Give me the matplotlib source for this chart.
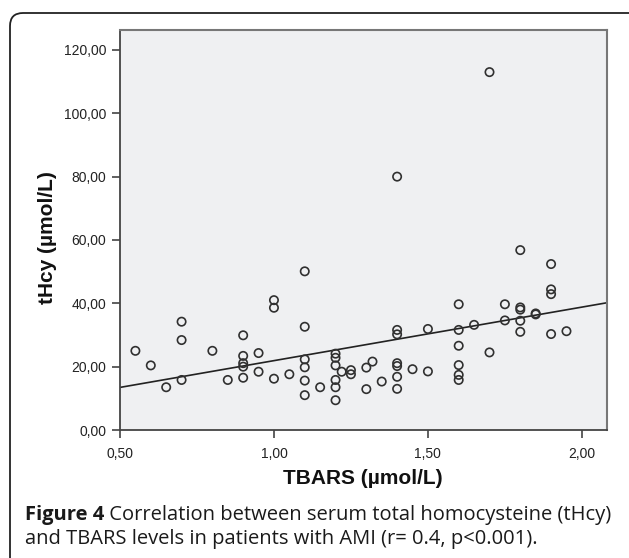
import numpy as np
import matplotlib
matplotlib.use("Agg")
import matplotlib.pyplot as plt
from matplotlib.patches import FancyBboxPatch

# TBARS (umol/L) and tHcy (umol/L)
tbars = [0.55, 0.60, 0.65,
         0.70, 0.70, 0.70,
         0.80, 0.85,
         0.90, 0.90, 0.90, 0.90, 0.90,
         0.95, 0.95,
         1.00, 1.00, 1.00,
         1.05,
         1.10, 1.10, 1.10, 1.10, 1.10, 1.10,
         1.15,
         1.20, 1.20, 1.20, 1.20, 1.20, 1.20,
         1.22, 1.25, 1.25, 1.30, 1.30, 1.32, 1.35,
         1.40, 1.40, 1.40, 1.40, 1.40, 1.40, 1.40,
         1.45, 1.50, 1.50,
         1.60, 1.60, 1.60, 1.60, 1.60, 1.60,
         1.65, 1.70, 1.70, 1.75, 1.75,
         1.80, 1.80, 1.80, 1.80, 1.80,
         1.85, 1.85,
         1.90, 1.90, 1.90, 1.90,
         1.95]
thcy = [25.0, 20.4, 13.5,
        34.2, 28.4, 15.8,
        25.0, 15.8,
        29.9, 23.4, 21.1, 20.0, 16.5,
        24.3, 18.4,
        41.0, 38.6, 16.2,
        17.6,
        50.1, 32.6, 22.3, 19.8, 15.6, 11.0,
        13.5,
        24.1, 22.8, 20.4, 15.8, 13.5, 9.4,
        18.4, 18.9, 17.6, 19.7, 12.9, 21.6, 15.3,
        80.0, 31.6, 30.2, 21.1, 20.2, 16.8, 13.0,
        19.2, 31.9, 18.5,
        39.7, 31.6, 26.6, 20.5, 17.4, 15.8,
        33.2, 113.0, 24.5, 39.7, 34.6,
        56.8, 38.7, 38.0, 34.5, 31.0,
        36.8, 36.5,
        52.4, 44.4, 42.9, 30.3,
        31.2]

# fit line as drawn in the figure
fit_intercept = 5.0
fit_slope = 16.9

x_ticks = [0.5, 1.0, 1.5, 2.0]
y_ticks = [0, 20, 40, 60, 80, 100, 120]
x_lim = (0.5, 2.08)
y_lim = (0, 126.3)

caption_bold = "Figure 4"
caption_1 = " Correlation between serum total homocysteine (tHcy)"
caption_2 = "and TBARS levels in patients with AMI (r= 0.4, p<0.001)."

plt.rcParams['font.family'] = ['Liberation Sans', 'DejaVu Sans']

fig = plt.figure(figsize=(6.29, 5.58), dpi=100)
fig.patch.set_facecolor('white')

# rounded frame around the whole figure
frame = FancyBboxPatch((0.10, -0.3), 6.35, 5.75, boxstyle="round,pad=0,rounding_size=0.13",
                       transform=fig.dpi_scale_trans, facecolor='none',
                       edgecolor='#222222', linewidth=1.3)
fig.add_artist(frame)

ax = fig.add_axes([120 / 629, 1 - 430 / 558, 486.5 / 629, 400 / 558])
ax.set_facecolor('#eff0f2')

ax.scatter(tbars, thcy, s=36, facecolors='none', edgecolors='#303030', linewidths=1.2, zorder=3)

xs = np.array(x_lim)
ax.plot(xs, fit_intercept + fit_slope * xs, color='#222222', linewidth=1.2, zorder=2)

ax.set_xlim(*x_lim)
ax.set_ylim(*y_lim)
ax.set_xticks(x_ticks)
ax.set_yticks(y_ticks)
ax.set_xticklabels([f"{v:.2f}".replace('.', ',') for v in x_ticks])
ax.set_yticklabels([f"{v:.2f}".replace('.', ',') for v in y_ticks])
ax.tick_params(direction='out', length=6, width=1.2, color='#444444',
               labelsize=10, labelcolor='#222222', pad=4)
ax.tick_params(axis='x', pad=6)

for side in ['left', 'bottom']:
    ax.spines[side].set_color('#444444')
    ax.spines[side].set_linewidth(1.3)
for side in ['top', 'right']:
    ax.spines[side].set_color('#777777')
    ax.spines[side].set_linewidth(1.5)

ax.set_xlabel('TBARS (µmol/L)', fontsize=15, fontweight='bold', color='#111111')
ax.xaxis.set_label_coords(0.5, -0.098)
ax.set_ylabel('tHcy (µmol/L)', fontsize=15, fontweight='bold', color='#111111')
ax.yaxis.set_label_coords(-0.13, 0.48)

# caption under the chart
cap_font = ['Open Sans', 'DejaVu Sans']
t1 = fig.text(25 / 629, 1 - 520 / 558, caption_bold, fontsize=14.5, fontweight='bold',
              family=cap_font, va='baseline', color='#1a1a1a')
fig.canvas.draw()
bb = t1.get_window_extent()
fig.text(bb.x1 / fig.bbox.width, 1 - 520 / 558, caption_1, fontsize=14.5,
         family=cap_font, va='baseline', color='#1a1a1a')
fig.text(25 / 629, 1 - 544 / 558, caption_2, fontsize=14.5,
         family=cap_font, va='baseline', color='#1a1a1a')

fig.savefig("out.png", dpi=100)
